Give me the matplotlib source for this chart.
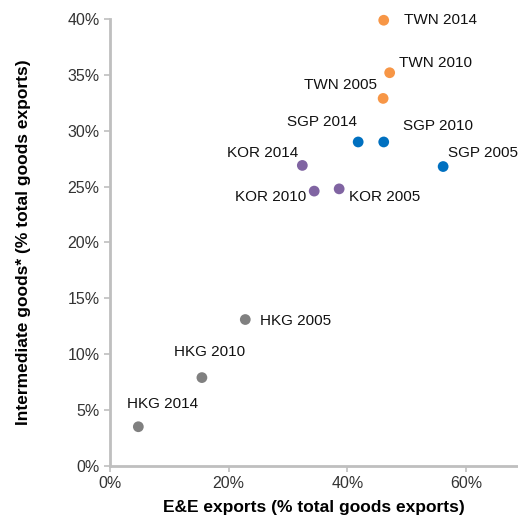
import matplotlib
matplotlib.use('Agg')
import matplotlib.pyplot as plt
from matplotlib.ticker import PercentFormatter

plt.rcParams['font.family'] = ['Liberation Sans', 'DejaVu Sans']

labels = ['TWN 2014', 'TWN 2010', 'TWN 2005',
          'SGP 2014', 'SGP 2010', 'SGP 2005',
          'KOR 2014', 'KOR 2010', 'KOR 2005',
          'HKG 2005', 'HKG 2010', 'HKG 2014']
ee_exports = [46.1, 47.1, 46.0, 41.8, 46.1, 56.1, 32.4, 34.4, 38.6, 22.8, 15.5, 4.8]
intermediate = [39.9, 35.2, 32.9, 29.0, 29.0, 26.8, 26.9, 24.6, 24.8, 13.1, 7.9, 3.5]
country_colors = {'TWN': '#f79646', 'SGP': '#0070c0', 'KOR': '#8064a2', 'HKG': '#808080'}

# label offsets in pixels (dx, dy, horizontal alignment)
offsets = {
    'TWN 2014': (20, 0, 'left'), 'TWN 2010': (9, 10, 'left'), 'TWN 2005': (-6, 13, 'right'),
    'SGP 2014': (-1, 20, 'right'), 'SGP 2010': (19, 16, 'left'), 'SGP 2005': (5, 14, 'left'),
    'KOR 2014': (-4, 12, 'right'), 'KOR 2010': (-8, -6, 'right'), 'KOR 2005': (10, -8, 'left'),
    'HKG 2005': (15, -1, 'left'), 'HKG 2010': (8, 26, 'center'), 'HKG 2014': (24, 23, 'center'),
}

fig = plt.figure(figsize=(5.18, 5.17), dpi=100)
ax = fig.add_axes([0.212, 0.099, 0.788, 0.864])

for lab, x, y in zip(labels, ee_exports, intermediate):
    ax.scatter(x, y, s=60, color=country_colors[lab[:3]], zorder=3,
               edgecolors='none', clip_on=False)
    dx, dy, ha = offsets[lab]
    ax.annotate(lab, (x, y), xytext=(dx, dy), textcoords='offset pixels',
                ha=ha, va='center', fontsize=11, color='#111111')

ax.set_xlim(0, 68.7)
ax.set_ylim(0, 40)
ax.set_xticks([0, 20, 40, 60])
ax.set_yticks(range(0, 41, 5))
ax.xaxis.set_major_formatter(PercentFormatter(decimals=0))
ax.yaxis.set_major_formatter(PercentFormatter(decimals=0))
ax.tick_params(labelsize=11.5, color='#bfbfbf', length=4, width=1.2, labelcolor='#333333')
for side in ['top', 'right']:
    ax.spines[side].set_visible(False)
for side in ['left', 'bottom']:
    ax.spines[side].set_color('#bfbfbf')
    ax.spines[side].set_linewidth(2)

ax.set_xlabel('E&E exports (% total goods exports)', fontsize=12.5, fontweight='bold', labelpad=6)
ax.set_ylabel('Intermediate goods* (% total goods exports)', fontsize=12.5, fontweight='bold', labelpad=26)

fig.savefig('out.png', dpi=100)
